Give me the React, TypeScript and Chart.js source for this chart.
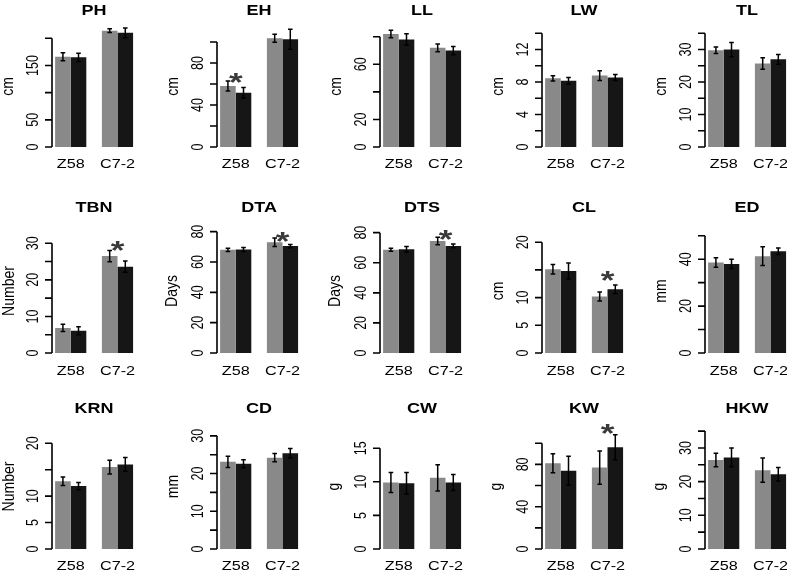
import React, { useEffect, useRef } from 'react';
import { Chart, registerables } from 'chart.js';

Chart.register(...registerables);

// ---------------- data ----------------
const categories = ['Z58', 'C7-2'];
const traits = ['PH', 'EH', 'LL', 'LW', 'TL', 'TBN', 'DTA', 'DTS', 'CL', 'ED', 'KRN', 'CD', 'CW', 'KW', 'HKW'];
const yTitles = ['cm', 'cm', 'cm', 'cm', 'cm', 'Number', 'Days', 'Days', 'cm', 'mm', 'Number', 'mm', 'g', 'g', 'g'];

const grayMeans = [
  [166, 214], [58, 103.5], [82, 72], [8.45, 8.8], [29.8, 25.7],
  [6.85, 26.5], [68, 73], [68.7, 74.5], [15.1, 10.2], [38.6, 41.3],
  [12.8, 15.5], [23.1, 24.2], [9.9, 10.6], [81, 77], [26.4, 23.4],
];
const grayErrors = [
  [7.5, 3.5], [4.8, 3.8], [2.8, 2.8], [0.33, 0.6], [1, 1.8],
  [1, 1.55], [1, 2.8], [1, 2.5], [0.85, 0.8], [2, 4],
  [0.8, 1.3], [1.5, 1.1], [1.5, 1.95], [9, 15.7], [2, 3.6],
];
const blackMeans = [
  [165, 210], [51.7, 102.6], [78, 70], [8.15, 8.55], [30, 27],
  [6.1, 23.6], [68.2, 70.5], [69, 71.2], [14.8, 11.5], [38.0, 43.4],
  [11.9, 16.0], [22.6, 25.4], [9.8, 9.9], [74, 96.2], [27.2, 22.2],
];
const blackErrors = [
  [7.5, 9], [5, 9.5], [4.2, 3], [0.4, 0.37], [2.2, 1.5],
  [1.1, 1.55], [1.3, 1.1], [1.8, 1.3], [1.45, 0.75], [2, 1.35],
  [0.7, 1.3], [1.05, 1.25], [1.6, 1.2], [13.8, 11.8], [2.8, 2],
];

const yMax = [230, 119, 90.7, 15.39, 38.48, 35.0, 84.4, 85.1, 23.1, 54.6, 24.4, 34.2, 19.2, 122, 38.3];
const yTicks = [
  [0, 50, 100, 150, 200], [0, 20, 40, 60, 80, 100], [0, 20, 40, 60, 80], [0, 2, 4, 6, 8, 10, 12, 14], [0, 5, 10, 15, 20, 25, 30, 35],
  [0, 5, 10, 15, 20, 25, 30], [0, 20, 40, 60, 80], [0, 20, 40, 60, 80], [0, 5, 10, 15, 20], [0, 10, 20, 30, 40, 50],
  [0, 5, 10, 15, 20], [0, 5, 10, 15, 20, 25, 30], [0, 5, 10, 15], [0, 20, 40, 60, 80, 100], [0, 5, 10, 15, 20, 25, 30, 35],
];
const yTickLabels = [
  [0, 50, 150], [0, 40, 80], [0, 20, 60], [0, 4, 8, 12], [0, 10, 20, 30],
  [0, 10, 20, 30], [0, 20, 40, 60, 80], [0, 20, 40, 60, 80], [0, 5, 10, 20], [0, 20, 40],
  [0, 5, 10, 20], [0, 10, 20, 30], [0, 5, 10, 15], [0, 40, 80], [0, 10, 20, 30],
];
// significance marks: group index (or -1 for none) and the value where the star sits
const starGroup = [-1, 0, -1, -1, -1, 1, 1, 1, 1, -1, -1, -1, -1, 1, -1];
const starValue = [0, 65.7, 0, 0, 0, 29.3, 76.5, 78.5, 13.9, 0, 0, 0, 0, 113.5, 0];

// ---------------- layout / style ----------------
const FONT = '"Liberation Sans", Arial, Helvetica, sans-serif';
const SX = 1.35; // horizontal stretch of the original figure's text
const CANVAS_W = 163;
const CANVAS_H = 186;
const AXIS_LEFT = 52;
const PLOT_W = 84.2;
const colLefts = [0, 165, 328, 490, 653];
const rowLayout = [
  { top: 0, title: 10, areaTop: 22, zero: 147, label: 163 },
  { top: 197, title: 10, areaTop: 28, zero: 156, label: 173 },
  { top: 398, title: 10, areaTop: 22, zero: 151, label: 167 },
];
const GRAY = '#898989';
const BLACK = '#161616';

const groupX = (i: number) => 2 + 3 * i;

function drawText(ctx: CanvasRenderingContext2D, text: string, x: number, y: number, font: string, rotate: boolean, color = '#000', sx = SX) {
  ctx.save();
  ctx.font = font;
  ctx.fillStyle = color;
  ctx.translate(x, y);
  ctx.scale(sx, 1);
  if (rotate) ctx.rotate(-Math.PI / 2);
  ctx.textAlign = 'center';
  ctx.textBaseline = 'alphabetic';
  const m = ctx.measureText(text);
  const asc = m.actualBoundingBoxAscent;
  const desc = m.actualBoundingBoxDescent;
  ctx.fillText(text, 0, (asc - desc) / 2);
  ctx.restore();
}

function makePlugin(k: number, row: any) {
  return {
    id: 'rstyle' + k,
    afterDatasetsDraw(chart: any) {
      const ctx: CanvasRenderingContext2D = chart.ctx;
      const xs = chart.scales.x;
      const ys = chart.scales.y;
      const area = chart.chartArea;
      // error bars
      const sets = [[grayMeans, grayErrors], [blackMeans, blackErrors]];
      ctx.save();
      ctx.strokeStyle = '#000';
      ctx.lineWidth = 1.5;
      sets.forEach(([m, e], d) => {
        const meta = chart.getDatasetMeta(d);
        meta.data.forEach((el: any, i: number) => {
          const x = el.x;
          const hi = ys.getPixelForValue(m[k][i] + e[k][i]);
          const lo = ys.getPixelForValue(m[k][i] - e[k][i]);
          const cap = 2.3;
          ctx.beginPath();
          ctx.moveTo(x, hi); ctx.lineTo(x, lo);
          ctx.moveTo(x - cap, hi); ctx.lineTo(x + cap, hi);
          ctx.moveTo(x - cap, lo); ctx.lineTo(x + cap, lo);
          ctx.stroke();
        });
      });
      // y axis (R style)
      const ticks = yTicks[k];
      const ax = area.left;
      const yTop = ys.getPixelForValue(ticks[ticks.length - 1]);
      const yBot = ys.getPixelForValue(ticks[0]);
      ctx.lineWidth = 1.6;
      ctx.beginPath();
      ctx.moveTo(ax, yBot); ctx.lineTo(ax, yTop);
      ticks.forEach((t) => {
        const y = ys.getPixelForValue(t);
        ctx.moveTo(ax - 7, y); ctx.lineTo(ax, y);
      });
      ctx.stroke();
      ctx.restore();
      yTickLabels[k].forEach((t) => {
        drawText(ctx, String(t), ax - 20, ys.getPixelForValue(t), '12.5px ' + FONT, true);
      });
      drawText(ctx, yTitles[k], ax - 44, (area.top + area.bottom) / 2 + 2, '14px ' + FONT, true, '#000', 1.15);
      // title
      drawText(ctx, traits[k], ax + PLOT_W / 2, row.title, 'bold 15px ' + FONT, false, '#000', 1.2);
      // x labels
      categories.forEach((c, i) => {
        drawText(ctx, c, xs.getPixelForValue(groupX(i)), row.label, '12px ' + FONT, false);
      });
      // significance star
      if (starGroup[k] >= 0) {
        drawText(ctx, '*', xs.getPixelForValue(groupX(starGroup[k])), ys.getPixelForValue(starValue[k]), 'bold 26px ' + FONT, false, '#3a3a3a');
      }
    },
  };
}

function Panel({ k }: { k: number }) {
  const ref = useRef<HTMLCanvasElement>(null);
  const row = rowLayout[Math.floor(k / 5)];
  useEffect(() => {
    if (!ref.current) return;
    const barOpts = { categoryPercentage: 2 / 3, barPercentage: 1, borderWidth: 0 };
    const chart = new Chart(ref.current, {
      type: 'bar',
      data: {
        datasets: [
          { data: categories.map((c, i) => ({ x: groupX(i), y: grayMeans[k][i] })), backgroundColor: GRAY, ...barOpts } as any,
          { data: categories.map((c, i) => ({ x: groupX(i), y: blackMeans[k][i] })), backgroundColor: BLACK, ...barOpts } as any,
        ],
      },
      options: {
        animation: false,
        responsive: false,
        events: [],
        layout: {
          padding: { left: AXIS_LEFT, right: CANVAS_W - AXIS_LEFT - PLOT_W, top: row.areaTop, bottom: CANVAS_H - row.zero },
        },
        plugins: { legend: { display: false }, tooltip: { enabled: false }, title: { display: false } },
        scales: {
          x: {
            type: 'linear',
            display: false,
            offset: false,
            min: 0.8,
            max: 6.2,
            afterBuildTicks: (s: any) => {
              s.ticks = categories.map((c, i) => ({ value: groupX(i), label: c }));
            },
          },
          y: { type: 'linear', display: false, min: 0, max: yMax[k] },
        },
      } as any,
      plugins: [makePlugin(k, row)],
    });
    return () => chart.destroy();
  }, [k]);
  return (
    <canvas
      ref={ref}
      width={CANVAS_W}
      height={CANVAS_H}
      style={{ position: 'absolute', left: colLefts[k % 5], top: row.top, width: CANVAS_W, height: CANVAS_H }}
    />
  );
}

export default function App() {
  return (
    <div style={{ position: 'absolute', left: 0, top: 0, width: 787, height: 572, overflow: 'hidden', background: '#fff' }}>
      {traits.map((t, k) => (
        <Panel key={t} k={k} />
      ))}
    </div>
  );
}
